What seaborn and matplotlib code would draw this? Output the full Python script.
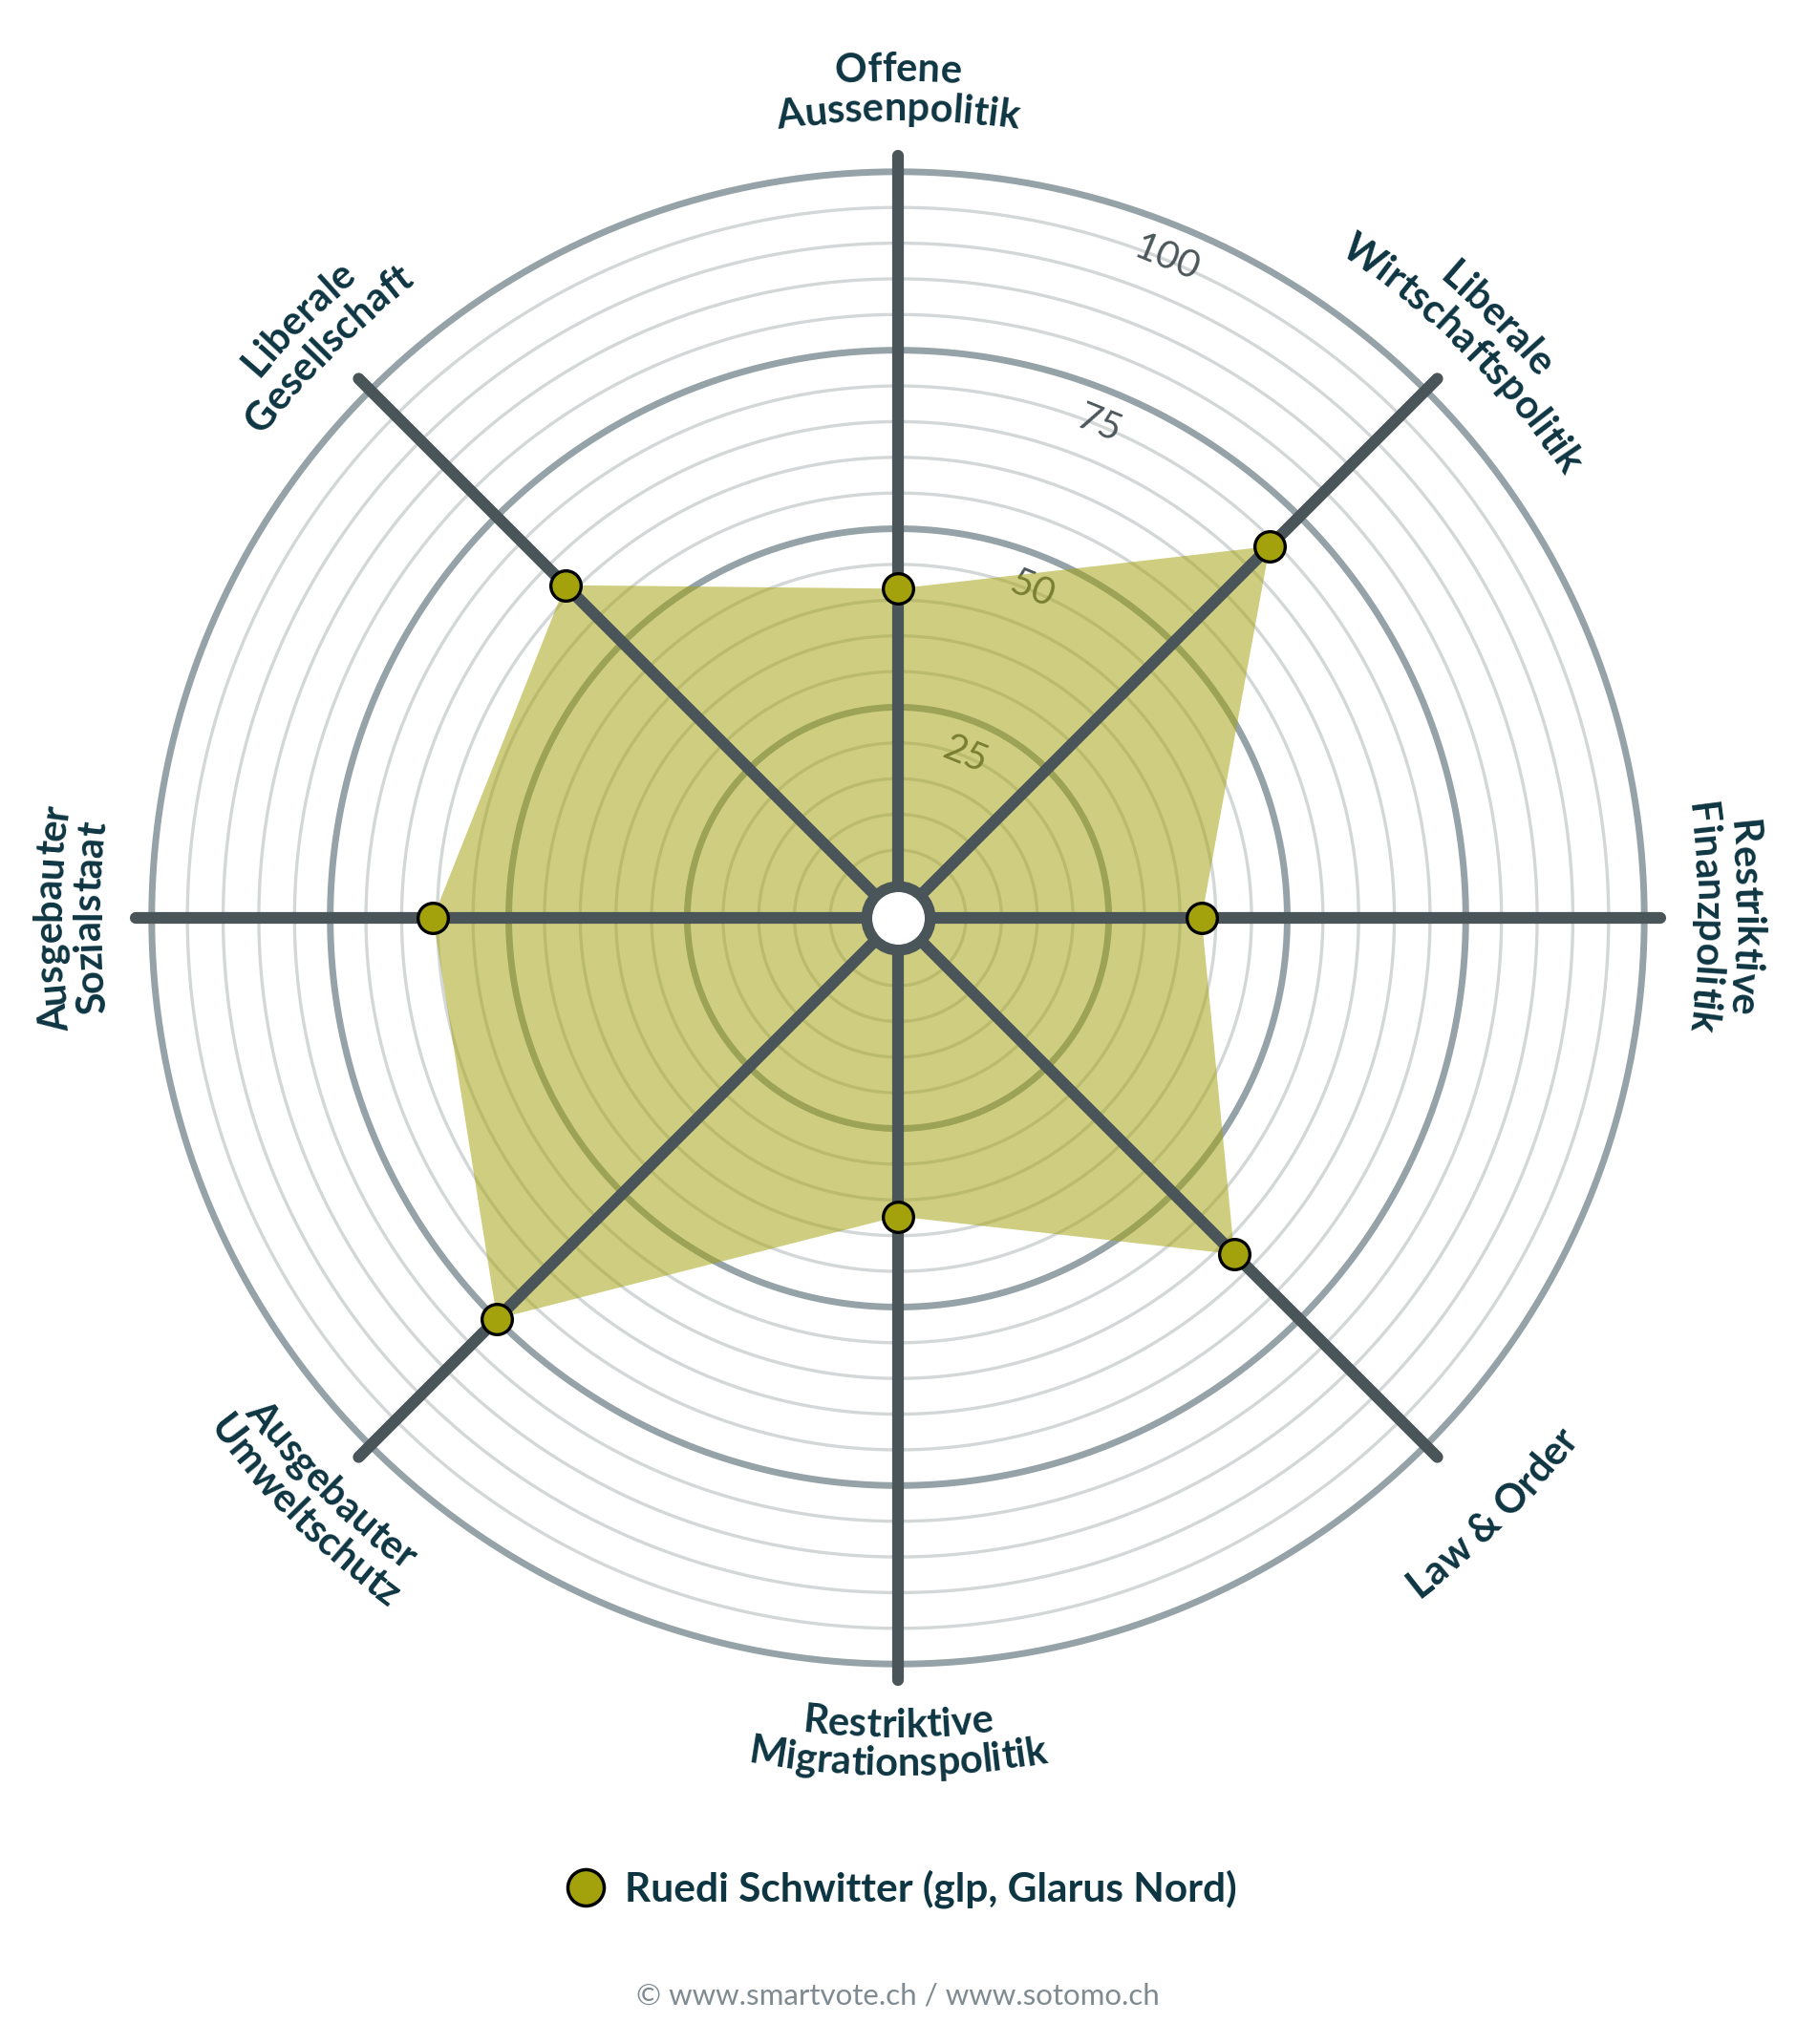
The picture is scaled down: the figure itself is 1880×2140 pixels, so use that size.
import numpy as np
import pandas as pd
import matplotlib
matplotlib.use("Agg")
import matplotlib.pyplot as plt
import seaborn as sns
from matplotlib.lines import Line2D
from matplotlib.font_manager import FontProperties

# ---------------- data ----------------
categories = [
    "Offene\nAussenpolitik",
    "Liberale\nWirtschaftspolitik",
    "Restriktive\nFinanzpolitik",
    "Law & Order",
    "Restriktive\nMigrationspolitik",
    "Ausgebauter\nUmweltschutz",
    "Ausgebauter\nSozialstaat",
    "Liberale\nGesellschaft",
]
values = [41.6, 69.1, 38.0, 62.1, 37.3, 74.9, 60.6, 61.4]
tick_values = [25, 50, 75, 100]
tick_labels = ["25", "50", "75", "100"]
series_name = "Ruedi Schwitter (glp, Glarus Nord)"
source_text = "\u00a9 www.smartvote.ch / www.sotomo.ch"

# ---------------- style ----------------
OLIVE = "#a3a20c"
TEXT = "#0e3542"
SPOKE = "#4a5559"
RING_THICK = "#95a2a7"
RING_THIN = "#d4d7d8"
TICK_COL = "#4c575b"

sns.set_theme(style="white")
plt.rcParams["font.family"] = ["Lato", "DejaVu Sans"]

W, H = 1880, 2140
fig = plt.figure(figsize=(W / 100, H / 100), dpi=100)
fig.patch.set_facecolor("white")

K = 7.475          # px per unit
R0 = 33.7          # px offset of value 0
RORIG = R0 / K
YMAX = 103.5
CX, CY = 940, 961  # center (px, from top)
RAD = (YMAX + RORIG) * K
ax = fig.add_axes([(CX - RAD) / W, (H - CY - RAD) / H, 2 * RAD / W, 2 * RAD / H],
                  projection="polar")
ax.set_theta_zero_location("N")
ax.set_theta_direction(-1)

n = len(categories)
angles_deg = np.arange(n) * 360.0 / n
theta = np.deg2rad(angles_deg)

# rings
tr = np.linspace(0, 2 * np.pi, 1441)
for v in range(5, 101, 5):
    thick = v % 25 == 0
    ax.plot(tr, np.full_like(tr, v), color=RING_THICK if thick else RING_THIN,
            lw=5.0 if thick else 2.4, zorder=1, solid_capstyle="butt")

# tick labels
TICK_ANG = 22.2
for tv, tl in zip(tick_values, tick_labels):
    ax.text(np.deg2rad(TICK_ANG), tv - 4.8, tl, rotation=-TICK_ANG,
            rotation_mode="anchor", ha="center", va="center",
            color=TICK_COL, fontsize=29, family=["Lato", "DejaVu Sans"], zorder=2)

# filled area
df = pd.DataFrame({"theta": theta, "value": values, "cat": categories})
tc = np.append(theta, theta[0])
vc = np.append(values, values[0])
ax.fill(tc, vc, color=OLIVE, alpha=0.52, lw=0, zorder=3)

# spokes
for t in theta:
    ax.plot([t, t], [0, 102.3], color=SPOKE, lw=8.8, solid_capstyle="round", zorder=4)

# center hole
ax.plot([0], [-RORIG + 0.01], marker="o", markersize=47.9, markerfacecolor="white",
        markeredgecolor=SPOKE, markeredgewidth=8.3, zorder=5, clip_on=False)

# markers
sns.scatterplot(data=df, x="theta", y="value", ax=ax, s=520, color=OLIVE,
                edgecolor="black", linewidth=2.4, zorder=6, legend=False, clip_on=False)

ax.set_ylim(0, YMAX)
ax.set_rorigin(-RORIG)
ax.set_xlabel("")
ax.set_ylabel("")
ax.set_xticks([])
ax.set_yticks([])
ax.grid(False)
for s in ax.spines.values():
    s.set_visible(False)
ax.patch.set_alpha(0)

# ---------------- curved category labels ----------------
LABEL_SIZE = 30
fp = FontProperties(family=["Lato", "DejaVu Sans"], weight="bold", size=LABEL_SIZE)
fig.canvas.draw()
renderer = fig.canvas.get_renderer()


def tw(s):
    if not s:
        return 0.0
    w, h, d = renderer.get_text_width_height_descent(s, fp, ismath=False)
    return w


bar_w = tw("|")


def adv(s):
    return tw(s + "|") - bar_w if s else 0.0


TOP_BASE = [876, 835]     # baseline radii (px) for outward-reading labels
BOT_BASE = [858, 898]     # baseline radii (px) for bottom labels

for ang, cat in zip(angles_deg, categories):
    lines = cat.split("\n")
    bottom = 100 < ang < 260
    if bottom:
        radii = BOT_BASE if len(lines) == 2 else [BOT_BASE[1]]
    else:
        radii = TOP_BASE if len(lines) == 2 else [TOP_BASE[1]]
    for line, rb in zip(lines, radii):
        total = adv(line)
        for i, ch in enumerate(line):
            if ch == " ":
                continue
            a0 = adv(line[:i])
            a1 = adv(line[:i + 1])
            c = (a0 + a1) / 2 - total / 2
            dang = np.rad2deg(c / rb)
            if bottom:
                comp = ang - dang
                rot = 180 - comp
            else:
                comp = ang + dang
                rot = -comp
            ax.text(np.deg2rad(comp), (rb - R0) / K, ch, rotation=rot,
                    rotation_mode="anchor", ha="center", va="baseline",
                    fontproperties=fp, color=TEXT, clip_on=False, zorder=7)

# ---------------- legend & source ----------------
handle = Line2D([], [], marker="o", linestyle="none", markersize=27.4,
                markerfacecolor=OLIVE, markeredgecolor="black", markeredgewidth=2.5)
fig.legend(handles=[handle], labels=[series_name], loc="center",
           bbox_to_anchor=(0.502, 1 - 1978 / H), frameon=False,
           handlelength=0.95, handletextpad=0.5,
           prop=FontProperties(family=["Lato", "DejaVu Sans"], weight="bold", size=30.5),
           labelcolor=TEXT)

fig.text(0.5, 1 - 2090 / H, source_text, ha="center", va="center",
         color="#7f8b90", fontsize=22.5, family=["Lato", "DejaVu Sans"])

fig.savefig("out.png", dpi=100, facecolor="white")
